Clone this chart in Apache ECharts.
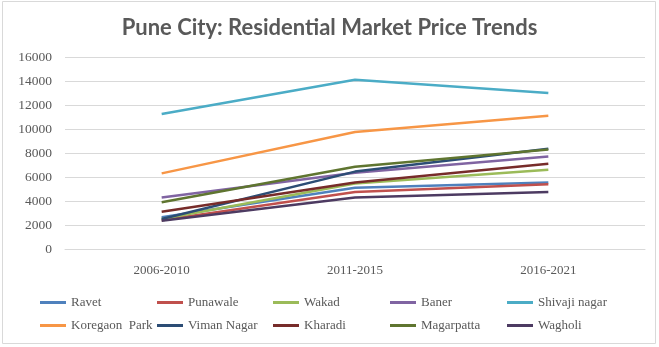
<!DOCTYPE html>
<html><head><meta charset="utf-8">
<script src="https://cdn.jsdelivr.net/npm/echarts@6/dist/echarts.min.js"></script>
<style>html,body{margin:0;padding:0;background:#fff}#c{width:659px;height:347px}</style>
</head><body><div id="c"></div>
<script>
var categories = ['2006-2010', '2011-2015', '2016-2021'];
var seriesNames = ['Ravet', 'Punawale', 'Wakad', 'Baner', 'Shivaji nagar', 'Koregaon  Park', 'Viman Nagar', 'Kharadi', 'Magarpatta', 'Wagholi'];
var ravet = [2650, 5100, 5550];
var punawale = [2400, 4750, 5400];
var wakad = [2500, 5450, 6600];
var baner = [4300, 6350, 7700];
var shivajiNagar = [11250, 14100, 13000];
var koregaonPark = [6300, 9750, 11100];
var vimanNagar = [2500, 6450, 8350];
var kharadi = [3100, 5550, 7100];
var magarpatta = [3900, 6850, 8300];
var wagholi = [2350, 4300, 4750];
var seriesData = [ravet, punawale, wakad, baner, shivajiNagar, koregaonPark, vimanNagar, kharadi, magarpatta, wagholi];
var colors = ['#4F81BD', '#C0504D', '#9BBB59', '#8064A2', '#4BACC6', '#F79646', '#2C4D75', '#772C2A', '#5F7530', '#4D3B62'];
var yTicks = [0, 2000, 4000, 6000, 8000, 10000, 12000, 14000, 16000];

var serifFont = 'Liberation Serif';
var chart = echarts.init(document.getElementById('c'));
var legendCols = [40, 157, 273, 390, 507];
var legendRows = [296, 319];
var legends = seriesNames.map(function (n, i) {
  return {
    data: [{ name: n, textStyle: { fontFamily: serifFont, fontSize: 13, color: '#595959' } }],
    left: legendCols[i % 5],
    top: legendRows[Math.floor(i / 5)],
    icon: 'rect',
    itemWidth: 26,
    itemHeight: 3,
    itemGap: 0,
    selectedMode: false,
    padding: 0,
    textStyle: { fontFamily: serifFont, fontSize: 13, color: '#595959' }
  };
});
chart.setOption({
  animation: false,
  color: colors,
  textStyle: { fontFamily: serifFont },
  title: {
    text: 'Pune City: Residential Market Price Trends',
    left: 'center',
    top: 12,
    textStyle: { fontFamily: 'Lato', fontWeight: 'bold', fontSize: 22, color: '#595959' }
  },
  graphic: [{
    type: 'rect', shape: { x: 2.5, y: 1.5, width: 653, height: 342 },
    style: { fill: 'none', stroke: '#D9D9D9', lineWidth: 1 }, silent: true
  }],
  legend: legends,
  grid: { left: 65, right: 14, top: 57, bottom: 98 },
  xAxis: {
    type: 'category', data: categories, boundaryGap: true,
    axisLine: { lineStyle: { color: '#D9D9D9' } },
    axisTick: { show: false },
    axisLabel: { margin: 15, fontFamily: serifFont, fontSize: 13, color: '#595959' }
  },
  yAxis: {
    type: 'value', min: yTicks[0], max: yTicks[yTicks.length - 1], interval: 2000,
    axisLine: { show: false }, axisTick: { show: false },
    splitLine: { lineStyle: { color: '#D9D9D9' } },
    axisLabel: { margin: 13, fontFamily: serifFont, fontSize: 13.5, color: '#595959',
      formatter: function (v) { return String(v); } }
  },
  series: seriesNames.map(function (n, i) {
    return {
      name: n, type: 'line', data: seriesData[i], showSymbol: false, symbol: 'none',
      lineStyle: { width: 2.5, color: colors[i] }, itemStyle: { color: colors[i] }
    };
  })
});
</script></body></html>
